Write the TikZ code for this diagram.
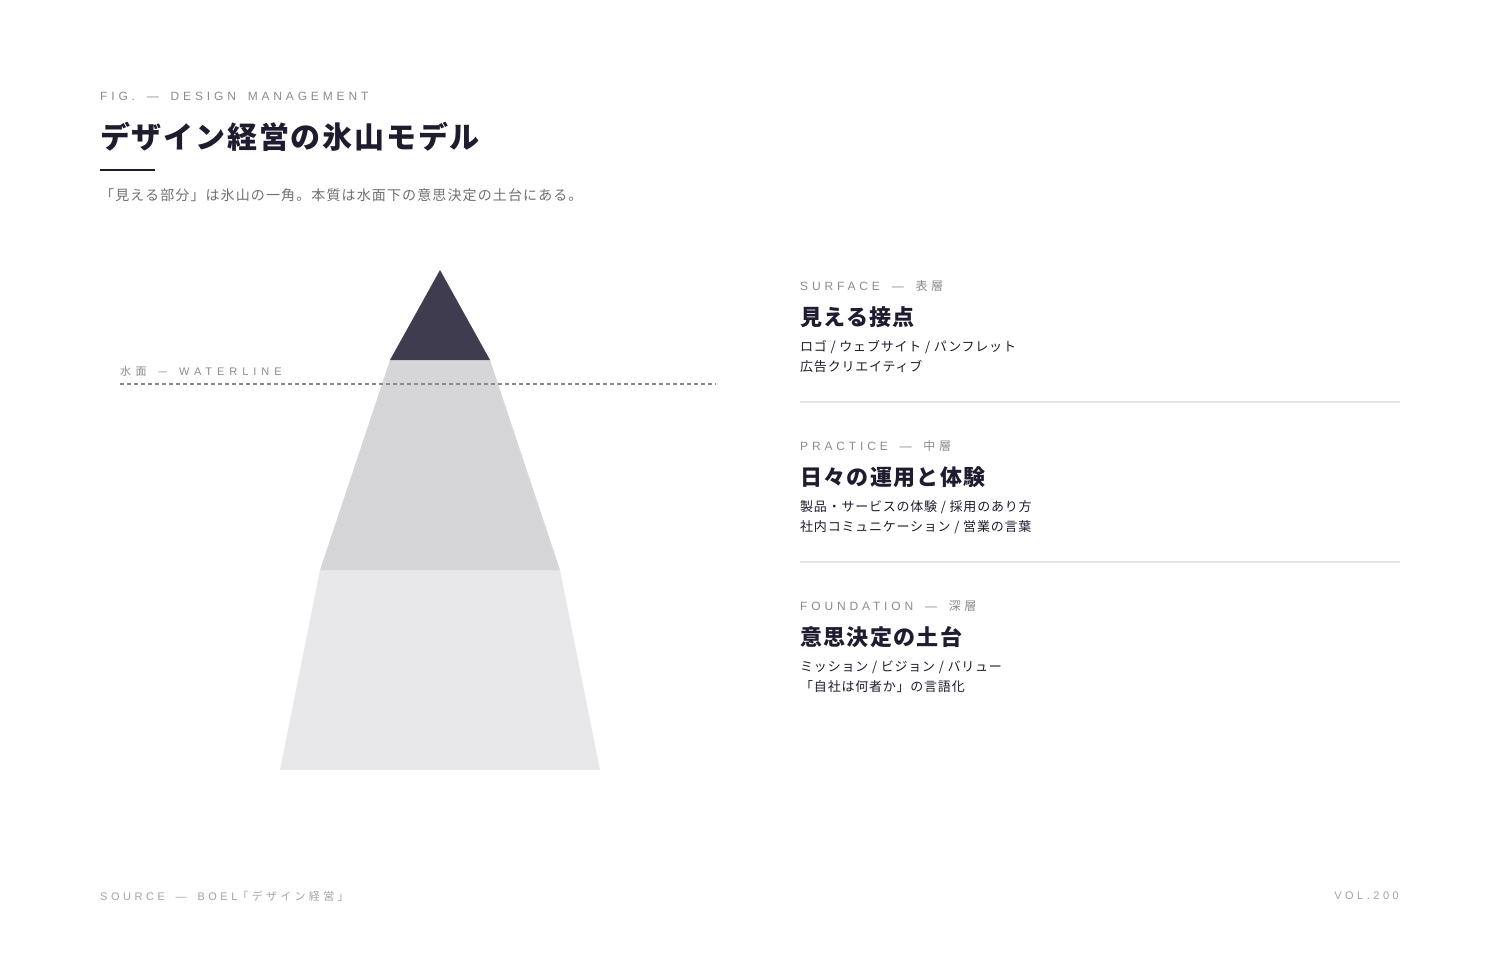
\documentclass[tikz,border=0pt]{standalone}
\usepackage{fontspec}
\setmainfont{Noto Sans CJK JP}
\newfontfamily\jpfont[LetterSpace=6]{Noto Sans CJK JP}
\newfontfamily\leadfont[LetterSpace=8]{Noto Sans CJK JP}
\newfontfamily\capfont[LetterSpace=32, WordSpace=1.65]{Liberation Sans}
\newfontfamily\capjpfont[LetterSpace=30, WordSpace=1.65]{Noto Sans CJK JP}
\newfontfamily\wlfont[LetterSpace=45, WordSpace=1.65]{Liberation Sans}
\newfontfamily\wljpfont[LetterSpace=40, WordSpace=1.65]{Noto Sans CJK JP}
\usetikzlibrary{positioning}
\definecolor{ink}{HTML}{1E1C2E}
\definecolor{mute}{HTML}{8A8A92}
\definecolor{tipfill}{HTML}{3E3C4E}
\definecolor{midfill}{HTML}{D6D6D9}
\definecolor{basefill}{HTML}{E8E8EA}
\definecolor{rulegray}{HTML}{E4E4E6}
\tikzstyle{kicker} = [anchor=west, inner sep=0, text=mute, font=\capfont\fontsize{12}{14}\selectfont]
\tikzstyle{heading} = [anchor=west, inner sep=0, text=ink, font=\jpfont\bfseries\fontsize{22}{26}\selectfont]
\tikzstyle{body} = [anchor=west, inner sep=0, text=ink, font=\jpfont\fontsize{13}{16}\selectfont]
\tikzstyle{divider} = [rulegray, line width=2pt]

\begin{document}
\begin{tikzpicture}[x=1pt, y=-1pt]
\useasboundingbox (0,0) rectangle (1500,960);

% header
\node (fig) [kicker] at (100,96) {FIG. — DESIGN MANAGEMENT};
\node (title) [anchor=west, inner sep=0, text=ink, font=\jpfont\bfseries\fontsize{30}{36}\selectfont] at (100,137) {デザイン経営の氷山モデル};
\draw[ink, line width=2pt] (100,170) -- (155,170);
\node (lead) [anchor=west, inner sep=0, text=mute!80!black, font=\leadfont\fontsize{14}{18}\selectfont] at (100,195) {「見える部分」は氷山の一角。本質は水面下の意思決定の土台にある。};

% iceberg
\fill[basefill] (320,570) -- (560,570) -- (600,770) -- (280,770) -- cycle;
\fill[midfill] (390,360) -- (490,360) -- (560,570) -- (320,570) -- cycle;
\fill[tipfill] (440,270) -- (490,360) -- (390,360) -- cycle;
\coordinate (wl1) at (120,384);
\coordinate (wl2) at (716,384);
\draw[mute, line width=1.2pt, dash pattern=on 4pt off 3pt] (wl1) -- (wl2);
\node (wlabel) [kicker, font=\wljpfont\fontsize{11}{13}\selectfont] at (120,371) {水面 — {\wlfont WATERLINE}};

% surface
\node (surfk) [kicker] at (800,286) {SURFACE — {\capjpfont 表層}};
\node (surfh) [heading] at (800,317) {見える接点};
\node (surfa) [body] at (800,347) {ロゴ / ウェブサイト / パンフレット};
\node (surfb) [body] at (800,367) {広告クリエイティブ};
\draw[divider] (800,402) -- (1400,402);

% practice
\node (prack) [kicker] at (800,446) {PRACTICE — {\capjpfont 中層}};
\node (prach) [heading] at (800,477) {日々の運用と体験};
\node (praca) [body] at (800,507) {製品・サービスの体験 / 採用のあり方};
\node (pracb) [body] at (800,527) {社内コミュニケーション / 営業の言葉};
\draw[divider] (800,562) -- (1400,562);

% foundation
\node (foundk) [kicker] at (800,606) {FOUNDATION — {\capjpfont 深層}};
\node (foundh) [heading] at (800,637) {意思決定の土台};
\node (founda) [body] at (800,667) {ミッション / ビジョン / バリュー};
\node (foundb) [body] at (800,687) {「自社は何者か」の言語化};

% footer
\node (src) [kicker, font=\capfont\fontsize{11}{13}\selectfont, text=mute!80] at (100,896) {SOURCE — BOEL{\capjpfont 「デザイン経営」}};
\node (vol) [kicker, anchor=east, font=\capfont\fontsize{11}{13}\selectfont, text=mute!80] at (1399,896) {VOL.200};
\end{tikzpicture}
\end{document}
